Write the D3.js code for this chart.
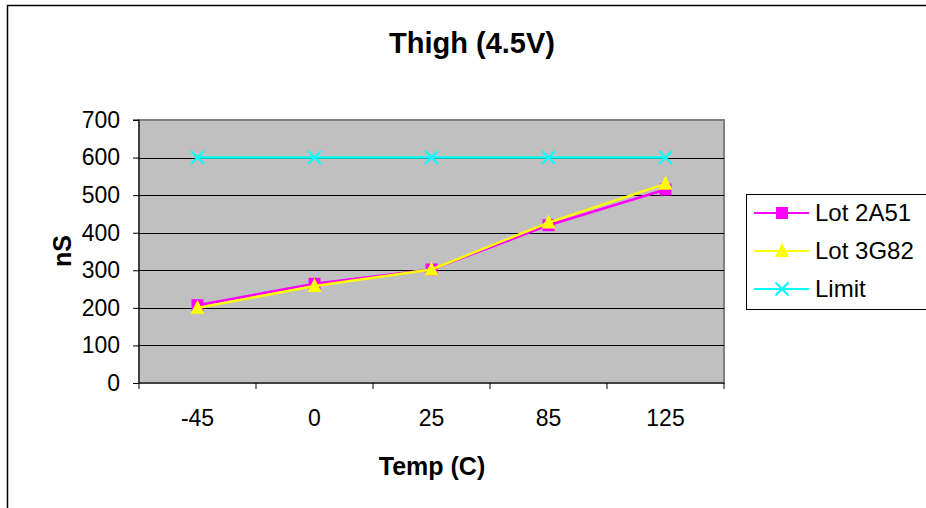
<!DOCTYPE html>
<html>
<head>
<meta charset="utf-8">
<script src="https://cdn.jsdelivr.net/npm/d3@7"></script>
<style>
    body { margin: 0; background: #fff; }
    text { font-family: Arial, "Liberation Sans", sans-serif; fill: #000; }
</style>
</head>
<body>
<div id="chart"></div>
<script>
var temps = ["-45", "0", "25", "85", "125"];
var lot2A51 = [207, 264, 302, 420, 515];
var lot3G82 = [200, 258, 302, 427, 530];
var limit = [600, 600, 600, 600, 600];
var yTicks = [0, 100, 200, 300, 400, 500, 600, 700];

var seriesList = [
    { name: "Lot 2A51", values: lot2A51, color: "#ff00ff", marker: "square" },
    { name: "Lot 3G82", values: lot3G82, color: "#ffff00", marker: "triangle" },
    { name: "Limit", values: limit, color: "#00ffff", marker: "x" }
];

function init() {
    var w = 926;
    var h = 508;
    var plot = { left: 139, top: 120, right: 724, bottom: 383 };

    var svg = d3.select("#chart")
        .append("svg")
        .attr("width", w)
        .attr("height", h);

    // outer chart border
    svg.append("rect")
        .attr("x", 7.5).attr("y", 5.5)
        .attr("width", 940).attr("height", 520)
        .attr("fill", "none")
        .attr("stroke", "#000")
        .attr("stroke-width", 1.5);

    var xScale = d3.scaleBand()
        .domain(temps)
        .range([plot.left, plot.right]);

    var yScale = d3.scaleLinear()
        .domain([0, 700])
        .range([plot.bottom, plot.top]);

    // plot background
    svg.append("rect")
        .attr("x", plot.left).attr("y", plot.top)
        .attr("width", plot.right - plot.left)
        .attr("height", plot.bottom - plot.top)
        .attr("fill", "#c0c0c0")
        .attr("stroke", "#808080")
        .attr("stroke-width", 2);

    // gridlines
    svg.append("g")
        .selectAll("line")
        .data(yTicks.filter(function (d) { return d > 0 && d < 700; }))
        .join("line")
        .attr("x1", plot.left).attr("x2", plot.right)
        .attr("y1", function (d) { return Math.round(yScale(d)) + 0.5; })
        .attr("y2", function (d) { return Math.round(yScale(d)) + 0.5; })
        .attr("stroke", "#000")
        .attr("stroke-width", 1);

    // y axis
    var yAxis = d3.axisLeft(yScale).tickValues(yTicks).tickSize(6).tickPadding(13);
    var gy = svg.append("g")
        .attr("transform", `translate(${plot.left},0)`)
        .call(yAxis);
    gy.selectAll("text").style("font-size", "23px");
    gy.selectAll("line, path").attr("stroke", "#000");
    gy.select(".domain").attr("d", `M-6,${plot.top}H0V${plot.bottom}`);

    // x axis: ticks at band boundaries
    var xAxis = d3.axisBottom(xScale).tickSize(0).tickPadding(27);
    var gx = svg.append("g")
        .attr("transform", `translate(0,${plot.bottom})`)
        .call(xAxis);
    gx.selectAll("text").style("font-size", "23px");
    gx.select(".domain").attr("stroke", "#000").attr("d", `M${plot.left},0H${plot.right}`);
    gx.selectAll(".bound")
        .data(temps.concat(["end"]))
        .join("line")
        .attr("class", "bound")
        .attr("x1", function (d, i) { return plot.left + i * xScale.bandwidth(); })
        .attr("x2", function (d, i) { return plot.left + i * xScale.bandwidth(); })
        .attr("y1", 0).attr("y2", 6)
        .attr("stroke", "#000");

    var line = d3.line()
        .x(function (d, i) { return xScale(temps[i]) + xScale.bandwidth() / 2; })
        .y(function (d) { return yScale(d); });

    function drawMarker(g, type, color, cx, cy) {
        if (type === "square") {
            g.append("rect")
                .attr("x", cx - 6).attr("y", cy - 6)
                .attr("width", 12).attr("height", 12)
                .attr("fill", color);
        } else if (type === "triangle") {
            g.append("path")
                .attr("d", `M${cx},${cy - 8}L${cx + 7},${cy + 6}L${cx - 7},${cy + 6}Z`)
                .attr("fill", color);
        } else {
            g.append("path")
                .attr("d", `M${cx - 6.5},${cy - 6.5}L${cx + 6.5},${cy + 6.5}M${cx - 6.5},${cy + 6.5}L${cx + 6.5},${cy - 6.5}`)
                .attr("stroke", color)
                .attr("stroke-width", 2);
        }
    }

    seriesList.forEach(function (s) {
        svg.append("path")
            .datum(s.values)
            .attr("d", line)
            .attr("fill", "none")
            .attr("stroke", s.color)
            .attr("stroke-width", 2.5);
        var gm = svg.append("g");
        s.values.forEach(function (v, i) {
            drawMarker(gm, s.marker, s.color,
                xScale(temps[i]) + xScale.bandwidth() / 2, yScale(v));
        });
    });

    // title
    svg.append("text")
        .attr("x", 472).attr("y", 53)
        .attr("text-anchor", "middle")
        .style("font-size", "29px")
        .style("font-weight", "bold")
        .text("Thigh (4.5V)");

    // axis titles
    svg.append("text")
        .attr("x", 432).attr("y", 475)
        .attr("text-anchor", "middle")
        .style("font-size", "25px")
        .style("font-weight", "bold")
        .text("Temp (C)");

    svg.append("text")
        .attr("transform", "translate(71,251) rotate(-90)")
        .attr("text-anchor", "middle")
        .style("font-size", "25px")
        .style("font-weight", "bold")
        .text("nS");

    // legend
    var legend = svg.append("g");
    legend.append("rect")
        .attr("x", 746.5).attr("y", 194.5)
        .attr("width", 200).attr("height", 115)
        .attr("fill", "#fff")
        .attr("stroke", "#000")
        .attr("stroke-width", 1);

    seriesList.forEach(function (s, i) {
        var ly = 213 + i * 38;
        legend.append("line")
            .attr("x1", 754).attr("x2", 809)
            .attr("y1", ly).attr("y2", ly)
            .attr("stroke", s.color)
            .attr("stroke-width", 2);
        drawMarker(legend, s.marker, s.color, 782, ly);
        legend.append("text")
            .attr("x", 815).attr("y", ly + 8)
            .style("font-size", "24px")
            .text(s.name);
    });
}

window.onload = init;
</script>
</body>
</html>
